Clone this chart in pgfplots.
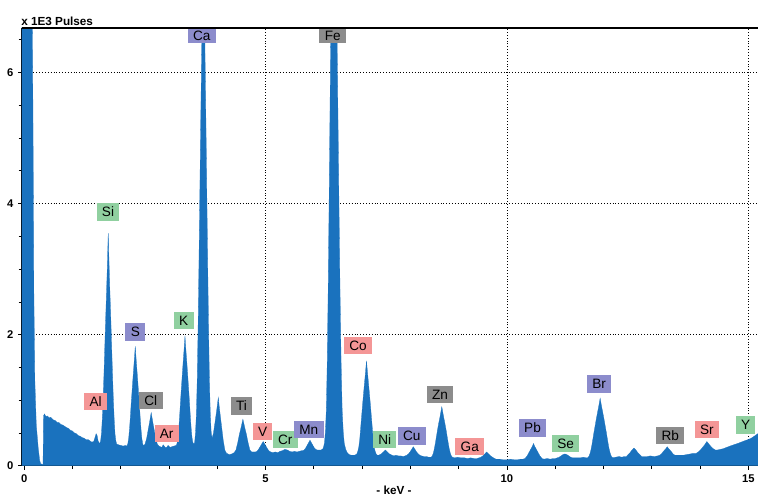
\documentclass[border=0pt]{standalone}
\usepackage{fontspec}
\setmainfont{Liberation Sans}
\usepackage{pgfplots}
\pgfplotsset{compat=1.18}
\definecolor{specblue}{RGB}{26,114,190}
\definecolor{lblgreen}{RGB}{144,208,160}
\definecolor{lblblue}{RGB}{140,140,204}
\definecolor{lblred}{RGB}{244,150,150}
\definecolor{lblgray}{RGB}{140,140,140}
\pgfplotstableread{
x y
-0.05 7.5
0.00 7.5
0.16 7.5
0.18 5.5
0.20 2.6
0.22 1.3
0.25 0.62
0.29 0.27
0.32 0.08
0.34 0.03
0.39 0.02
0.40 0.76
0.42 0.79
0.45 0.75
0.48 0.76
0.52 0.73
0.55 0.74
0.60 0.70
0.64 0.69
0.68 0.66
0.72 0.66
0.76 0.63
0.80 0.62
0.84 0.60
0.88 0.58
0.92 0.57
0.96 0.54
1.00 0.53
1.04 0.50
1.08 0.49
1.12 0.46
1.16 0.45
1.20 0.43
1.24 0.42
1.28 0.40
1.32 0.40
1.36 0.38
1.40 0.36
1.44 0.37
1.47 0.44
1.49 0.49
1.51 0.46
1.53 0.38
1.55 0.35
1.565 0.34
1.583 0.38
1.600 0.49
1.618 0.72
1.635 1.04
1.653 1.42
1.670 1.84
1.688 2.26
1.705 2.65
1.723 3.07
1.740 3.55
1.758 3.07
1.775 2.65
1.793 2.26
1.810 1.84
1.828 1.42
1.845 1.04
1.863 0.72
1.880 0.49
1.898 0.38
1.915 0.33
1.95 0.32
2.00 0.31
2.05 0.30
2.10 0.31
2.130 0.30
2.147 0.34
2.164 0.42
2.181 0.56
2.198 0.74
2.215 0.94
2.232 1.12
2.249 1.30
2.266 1.47
2.283 1.64
2.300 1.82
2.317 1.64
2.334 1.47
2.351 1.30
2.368 1.12
2.385 0.94
2.402 0.74
2.419 0.56
2.436 0.42
2.453 0.34
2.470 0.30
2.502 0.33
2.534 0.41
2.566 0.54
2.598 0.67
2.630 0.81
2.662 0.67
2.694 0.54
2.726 0.41
2.758 0.33
2.790 0.30
2.82 0.29
2.85 0.28
2.88 0.32
2.92 0.28
2.95 0.28
2.98 0.31
3.02 0.28
3.06 0.29
3.10 0.30
3.150 0.31
3.168 0.35
3.186 0.44
3.204 0.59
3.222 0.79
3.240 1.01
3.258 1.21
3.276 1.41
3.294 1.60
3.312 1.78
3.330 1.98
3.348 1.78
3.366 1.60
3.384 1.41
3.402 1.21
3.420 1.01
3.438 0.79
3.456 0.59
3.474 0.44
3.492 0.36
3.510 0.33
3.530 0.35
3.548 0.50
3.566 0.78
3.584 1.32
3.602 2.12
3.620 3.11
3.638 4.17
3.656 5.24
3.674 6.22
3.692 7.29
3.710 8.52
3.728 7.29
3.746 6.22
3.764 5.24
3.782 4.17
3.800 3.11
3.818 2.12
3.836 1.32
3.854 0.80
3.872 0.52
3.890 0.42
3.918 0.49
3.952 0.66
3.986 0.84
4.003 0.94
4.020 1.04
4.037 0.92
4.054 0.81
4.088 0.60
4.122 0.39
4.156 0.24
4.190 0.19
4.25 0.17
4.30 0.18
4.350 0.20
4.386 0.24
4.422 0.35
4.458 0.48
4.494 0.59
4.512 0.65
4.530 0.71
4.548 0.65
4.566 0.59
4.602 0.48
4.638 0.35
4.674 0.24
4.710 0.21
4.75 0.21
4.790 0.21
4.822 0.22
4.854 0.25
4.886 0.29
4.918 0.33
4.950 0.37
4.982 0.33
5.014 0.29
5.046 0.25
5.078 0.22
5.110 0.21
5.15 0.20
5.20 0.21
5.25 0.20
5.30 0.22
5.35 0.23
5.40 0.25
5.45 0.24
5.50 0.22
5.55 0.21
5.60 0.22
5.65 0.21
5.70 0.22
5.75 0.23
5.770 0.23
5.800 0.24
5.830 0.27
5.860 0.31
5.890 0.35
5.920 0.39
5.950 0.35
5.980 0.31
6.010 0.27
6.040 0.25
6.070 0.24
6.10 0.24
6.15 0.24
6.19 0.26
6.205 0.30
6.220 0.35
6.239 0.52
6.258 0.85
6.277 1.58
6.296 2.66
6.315 3.98
6.334 5.41
6.353 6.84
6.372 8.16
6.391 9.59
6.410 11.24
6.432 9.58
6.454 8.15
6.476 6.83
6.498 5.40
6.520 3.97
6.542 2.65
6.564 1.58
6.586 0.85
6.608 0.52
6.630 0.34
6.66 0.25
6.69 0.20
6.73 0.17
6.78 0.16
6.84 0.16
6.870 0.17
6.890 0.18
6.910 0.22
6.930 0.28
6.950 0.40
6.970 0.58
6.990 0.76
7.010 0.94
7.030 1.11
7.050 1.27
7.070 1.43
7.090 1.60
7.110 1.43
7.130 1.27
7.150 1.11
7.170 0.94
7.190 0.76
7.210 0.58
7.230 0.40
7.250 0.28
7.270 0.22
7.290 0.18
7.315 0.16
7.340 0.16
7.368 0.17
7.396 0.18
7.424 0.20
7.452 0.22
7.480 0.24
7.508 0.22
7.536 0.20
7.564 0.18
7.592 0.17
7.620 0.16
7.66 0.15
7.70 0.16
7.75 0.15
7.80 0.15
7.85 0.14
7.890 0.15
7.924 0.16
7.958 0.18
7.992 0.21
8.026 0.25
8.060 0.29
8.094 0.25
8.128 0.21
8.162 0.18
8.196 0.16
8.230 0.15
8.28 0.14
8.33 0.14
8.38 0.13
8.430 0.13
8.452 0.15
8.474 0.19
8.496 0.26
8.518 0.35
8.540 0.45
8.562 0.55
8.584 0.64
8.606 0.72
8.628 0.81
8.650 0.90
8.672 0.81
8.694 0.72
8.716 0.64
8.738 0.55
8.760 0.45
8.782 0.35
8.804 0.26
8.826 0.19
8.848 0.15
8.870 0.13
8.92 0.12
8.98 0.13
9.05 0.12
9.12 0.12
9.18 0.11
9.25 0.12
9.32 0.11
9.380 0.11
9.420 0.12
9.460 0.13
9.500 0.15
9.540 0.18
9.580 0.21
9.620 0.18
9.660 0.15
9.700 0.13
9.740 0.11
9.780 0.10
9.85 0.10
9.92 0.09
10.00 0.09
10.08 0.10
10.15 0.09
10.22 0.09
10.28 0.10
10.330 0.10
10.374 0.11
10.418 0.15
10.462 0.21
10.506 0.27
10.528 0.30
10.550 0.34
10.572 0.30
10.594 0.27
10.638 0.21
10.682 0.15
10.726 0.11
10.770 0.10
10.83 0.11
10.90 0.10
10.96 0.11
11.000 0.11
11.040 0.12
11.080 0.13
11.120 0.15
11.160 0.17
11.200 0.18
11.240 0.17
11.280 0.15
11.320 0.13
11.360 0.12
11.400 0.12
11.46 0.12
11.52 0.12
11.58 0.13
11.64 0.12
11.670 0.12
11.696 0.14
11.722 0.19
11.748 0.27
11.774 0.38
11.800 0.50
11.826 0.61
11.852 0.72
11.878 0.82
11.904 0.92
11.930 1.03
11.956 0.92
11.982 0.82
12.008 0.72
12.034 0.61
12.060 0.50
12.086 0.38
12.112 0.27
12.138 0.19
12.164 0.14
12.190 0.12
12.25 0.13
12.32 0.14
12.38 0.13
12.430 0.14
12.470 0.14
12.510 0.17
12.550 0.20
12.590 0.24
12.630 0.27
12.670 0.24
12.710 0.20
12.750 0.17
12.790 0.14
12.830 0.14
12.90 0.14
12.97 0.15
13.05 0.14
13.120 0.15
13.160 0.16
13.200 0.18
13.240 0.22
13.280 0.25
13.320 0.29
13.360 0.25
13.400 0.22
13.440 0.18
13.480 0.16
13.520 0.16
13.58 0.16
13.65 0.16
13.72 0.17
13.80 0.18
13.86 0.19
13.920 0.19
13.964 0.21
14.008 0.24
14.052 0.28
14.096 0.32
14.140 0.37
14.184 0.33
14.228 0.29
14.272 0.26
14.316 0.24
14.360 0.24
14.42 0.25
14.48 0.26
14.55 0.28
14.62 0.30
14.70 0.32
14.78 0.34
14.85 0.36
14.92 0.38
15.00 0.40
15.06 0.42
15.12 0.45
15.20 0.49
15.25 0.50
}\spectrum
\tikzset{lbl/.style={font=\fontsize{10.2}{11}\selectfont, inner xsep=4pt, inner ysep=0pt,
  minimum height=13pt, text height=7.3pt, text depth=0pt, anchor=center}}
\begin{document}
\begin{tikzpicture}
\begin{axis}[
  at={(0pt,0pt)}, anchor=south west,
  scale only axis, width=552pt, height=328.3pt,
  xmin=-0.046, xmax=15.2, ymin=0, ymax=6.68,
  axis x line*=bottom, axis y line*=left,
  axis line style={line width=0.8pt, -},
  xtick={0,5,10,15}, minor xtick={1,2,3,4,6,7,8,9,11,12,13,14},
  ytick={0,2,4,6}, minor ytick={0.5,1,1.5,2.5,3,3.5,4.5,5,5.5,6.5},
  tick align=outside, major tick length=3pt, minor tick length=2.5pt,
  tick style={black, line width=0.6pt},
  grid=major, major grid style={black, line width=0.65pt, dash pattern=on 0.65pt off 1.5pt},
  ticklabel style={font=\fontsize{8.4}{9}\selectfont\bfseries},
  /pgf/number format/assume math mode=true,
]
\addplot[fill=specblue, draw=specblue, line width=0.2pt] table[x=x,y=y] {\spectrum} \closedcycle;
\draw[line width=0.8pt] (rel axis cs:0,1) -- (rel axis cs:1,1);
\node[lbl, fill=lblblue, minimum height=10.7pt] at (axis cs:3.677,6.557) {Ca};
\node[lbl, fill=lblgray, minimum height=10.7pt] at (axis cs:6.391,6.560) {Fe};
\node[lbl, fill=lblgreen] at (axis cs:1.736,3.873) {Si};
\node[lbl, fill=lblblue] at (axis cs:2.302,2.041) {S};
\node[lbl, fill=lblgreen] at (axis cs:3.304,2.212) {K};
\node[lbl, fill=lblred] at (axis cs:1.481,0.983) {Al};
\node[lbl, fill=lblgray] at (axis cs:2.621,0.998) {Cl};
\node[lbl, fill=lblred] at (axis cs:2.952,0.489) {Ar};
\node[lbl, fill=lblgray] at (axis cs:4.502,0.911) {Ti};
\node[lbl, fill=lblred] at (axis cs:4.937,0.527) {V};
\node[lbl, fill=lblgreen] at (axis cs:5.407,0.400) {Cr};
\node[lbl, fill=lblblue] at (axis cs:5.894,0.553) {Mn};
\node[lbl, fill=lblred] at (axis cs:6.915,1.838) {Co};
\node[lbl, fill=lblgreen] at (axis cs:7.468,0.400) {Ni};
\node[lbl, fill=lblblue] at (axis cs:8.028,0.456) {Cu};
\node[lbl, fill=lblgray] at (axis cs:8.614,1.087) {Zn};
\node[lbl, fill=lblred] at (axis cs:9.229,0.298) {Ga};
\node[lbl, fill=lblblue] at (axis cs:10.530,0.576) {Pb};
\node[lbl, fill=lblgreen] at (axis cs:11.214,0.342) {Se};
\node[lbl, fill=lblblue] at (axis cs:11.908,1.247) {Br};
\node[lbl, fill=lblgray] at (axis cs:13.383,0.464) {Rb};
\node[lbl, fill=lblred] at (axis cs:14.141,0.550) {Sr};
\node[lbl, fill=lblgreen] at (axis cs:14.943,0.621) {Y};
\end{axis}
\node[anchor=base west, font=\fontsize{8.8}{10}\selectfont\bfseries, inner sep=0pt] at (-0.75pt,330.5pt) {x 1E3 Pulses};
\node[font=\fontsize{8.8}{10}\selectfont\bfseries, inner sep=0pt] at (279pt,-18.2pt) {- keV -};
\pgfresetboundingbox
\useasboundingbox (-16.5pt,-23.5pt) rectangle (552pt,349.3pt);
\end{tikzpicture}
\end{document}
